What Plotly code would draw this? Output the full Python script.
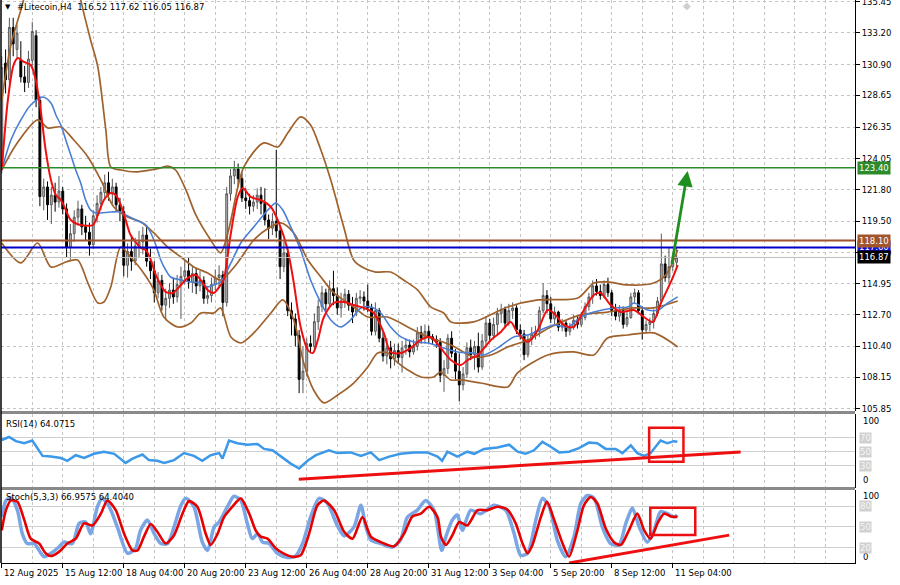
import plotly.graph_objects as go

# ------------------------------------------------------------------ data
bar_index = list(range(178))
opens = [123.5, 131.0, 129.8, 133.6, 132.0, 131.2, 130.0, 129.6, 131.2, 133.0,
         128.3, 121.3, 122.0, 120.7, 121.4, 120.9, 121.7, 120.4, 117.6, 118.6,
         119.8, 120.4, 119.1, 118.7, 117.8, 119.9, 120.8, 121.6, 122.3, 121.5,
         122.0, 120.7, 120.2, 116.3, 117.3, 116.6, 117.7, 118.0, 118.5, 116.6,
         115.9, 114.3, 115.2, 113.4, 113.9, 114.5, 114.0, 114.9, 115.5, 115.9,
         115.1, 115.7, 114.8, 115.2, 113.9, 114.1, 114.9, 115.4, 115.6, 113.6,
         121.5, 122.8, 123.3, 122.6, 121.2, 121.0, 120.6, 120.9, 121.4, 120.8,
         119.6, 119.0, 119.5, 118.8, 116.2, 117.2, 113.0, 112.4, 111.2, 108.0,
         108.6, 110.6, 110.4, 112.2, 113.3, 114.3, 113.5, 114.6, 114.1, 113.2,
         113.7, 114.2, 113.4, 112.9, 113.9, 114.0, 113.7, 113.2, 111.5, 113.0,
         111.0, 109.7, 110.3, 109.5, 110.1, 109.6, 110.3, 110.5, 110.0, 110.4,
         111.4, 111.0, 111.5, 111.1, 110.9, 110.7, 108.3, 108.8, 111.0, 109.9,
         108.6, 107.6, 108.4, 110.3, 109.8, 110.4, 108.9, 110.8, 112.1, 111.2,
         112.0, 112.8, 113.1, 112.1, 113.0, 113.2, 111.6, 111.3, 109.8, 110.9,
         111.3, 111.5, 113.0, 114.1, 113.5, 112.4, 112.9, 111.8, 112.1, 111.5,
         111.8, 112.3, 112.0, 112.5, 113.3, 114.0, 114.8, 114.4, 114.1, 114.9,
         114.3, 113.0, 112.6, 113.0, 112.0, 112.5, 114.0, 114.3, 113.0, 111.6,
         112.0, 112.2, 112.8, 113.7, 116.4, 115.4, 116.2, 116.52]
highs = [131.5, 132.0, 134.3, 134.3, 133.8, 132.6, 130.8, 131.9, 134.0, 133.4,
         128.6, 122.6, 122.4, 122.0, 122.3, 122.8, 122.0, 120.8, 119.3, 120.3,
         121.0, 120.7, 119.9, 119.4, 120.3, 121.4, 122.0, 122.9, 123.1, 122.6,
         122.3, 121.2, 120.6, 117.9, 118.4, 118.3, 118.8, 119.1, 119.2, 117.5,
         116.6, 115.8, 115.6, 114.6, 115.0, 115.4, 115.6, 116.2, 116.7, 116.9,
         116.3, 116.1, 115.9, 115.5, 114.8, 115.4, 116.0, 116.3, 115.9, 122.0,
         123.3, 123.9, 123.7, 123.0, 121.9, 121.5, 121.4, 121.9, 122.0, 121.9,
         120.0, 120.1, 124.7, 119.2, 118.0, 117.5, 113.6, 112.8, 111.6, 110.4,
         111.0, 111.2, 112.8, 113.8, 114.8, 114.6, 115.2, 115.9, 114.7, 114.3,
         114.6, 114.5, 114.0, 114.3, 114.5, 114.4, 114.9, 113.5, 113.6, 113.2,
         111.4, 111.0, 110.8, 110.6, 110.6, 110.8, 111.0, 110.9, 110.9, 111.8,
         111.9, 112.0, 111.9, 111.3, 111.2, 111.0, 109.4, 111.3, 111.5, 110.2,
         109.9, 108.9, 110.7, 110.9, 110.8, 111.4, 111.3, 112.6, 112.4, 112.5,
         113.2, 113.5, 113.3, 113.5, 113.6, 113.4, 112.0, 111.6, 111.2, 111.8,
         111.9, 113.3, 115.0, 114.5, 114.0, 113.3, 113.0, 112.4, 112.3, 112.1,
         112.7, 112.6, 112.9, 113.6, 114.3, 115.2, 115.3, 114.9, 115.2, 115.4,
         114.5, 113.5, 113.4, 113.3, 112.9, 114.3, 114.6, 114.5, 113.3, 112.3,
         112.5, 113.1, 114.0, 118.6, 117.0, 117.6, 117.0, 117.62]
lows = [123.0, 128.8, 129.5, 131.5, 131.4, 129.6, 128.9, 129.2, 130.8, 127.8,
        120.6, 120.3, 119.6, 119.3, 120.2, 120.5, 120.0, 116.9, 116.7, 118.0,
        119.2, 118.5, 118.1, 117.0, 117.5, 119.4, 120.3, 121.2, 121.0, 120.8,
        120.2, 119.5, 115.5, 115.4, 115.9, 116.3, 116.9, 117.1, 116.2, 115.3,
        113.6, 113.9, 113.0, 112.3, 113.2, 113.5, 113.6, 112.4, 114.9, 114.6,
        114.3, 114.2, 114.4, 113.5, 113.5, 113.6, 114.5, 114.7, 112.6, 113.3,
        121.0, 122.2, 122.0, 120.9, 120.4, 120.0, 120.2, 120.4, 120.0, 119.2,
        118.2, 118.5, 118.3, 115.3, 115.8, 112.6, 111.2, 110.4, 107.0, 107.0,
        108.2, 109.9, 110.1, 111.6, 112.9, 113.0, 113.2, 113.4, 112.7, 112.5,
        113.2, 113.0, 112.1, 112.6, 113.5, 113.0, 112.9, 111.2, 111.2, 110.7,
        109.3, 109.1, 108.8, 109.0, 109.2, 108.5, 109.8, 109.6, 109.8, 110.1,
        110.6, 110.6, 110.6, 110.5, 110.3, 107.8, 107.1, 108.4, 109.6, 108.0,
        106.4, 107.2, 108.1, 109.4, 108.7, 108.5, 108.7, 110.3, 110.8, 110.9,
        111.3, 112.1, 111.8, 111.9, 112.4, 111.3, 110.9, 109.4, 109.6, 110.5,
        110.9, 111.1, 112.8, 112.8, 112.1, 112.0, 111.5, 111.5, 111.1, 111.2,
        111.6, 111.7, 111.8, 112.3, 113.0, 113.5, 114.1, 113.8, 113.9, 114.0,
        112.6, 112.3, 112.2, 111.7, 111.8, 112.4, 113.5, 112.8, 110.9, 111.4,
        111.5, 111.7, 112.6, 113.5, 115.1, 115.0, 115.9, 116.05]
closes = [130.7, 129.8, 133.6, 132.4, 133.2, 130.0, 129.6, 131.3, 133.3, 128.3,
          121.3, 122.0, 120.7, 121.4, 120.9, 121.7, 120.4, 117.6, 118.6, 119.8,
          120.4, 119.1, 118.7, 117.8, 119.9, 120.8, 121.6, 122.3, 121.5, 122.0,
          120.7, 120.2, 116.3, 117.3, 116.6, 117.7, 118.0, 118.5, 116.6, 115.9,
          114.3, 115.2, 113.4, 113.9, 114.5, 114.0, 114.9, 115.5, 115.9, 115.1,
          115.7, 114.8, 115.2, 113.9, 114.1, 114.9, 115.4, 115.6, 113.6, 121.5,
          122.8, 123.3, 122.6, 121.2, 121.0, 120.6, 120.9, 121.4, 120.8, 119.6,
          119.0, 119.5, 118.8, 116.2, 117.2, 113.0, 112.4, 111.2, 108.0, 108.6,
          110.6, 110.4, 112.2, 113.3, 114.3, 113.5, 114.6, 114.1, 113.2, 113.7,
          114.2, 113.4, 112.9, 113.9, 114.0, 113.7, 113.2, 111.5, 113.0, 111.0,
          109.7, 110.3, 109.5, 110.1, 109.6, 110.3, 110.5, 110.0, 110.4, 111.4,
          111.0, 111.5, 111.1, 110.9, 110.7, 108.3, 108.8, 111.0, 109.9, 108.6,
          107.6, 108.4, 110.3, 109.8, 110.4, 108.9, 110.8, 112.1, 111.2, 112.0,
          112.8, 113.1, 112.1, 113.0, 113.2, 111.6, 111.3, 109.8, 110.9, 111.3,
          111.5, 113.0, 114.1, 113.5, 112.4, 112.9, 111.8, 112.1, 111.5, 111.8,
          112.3, 112.0, 112.5, 113.3, 114.0, 114.8, 114.4, 114.1, 114.9, 114.3,
          113.0, 112.6, 113.0, 112.0, 112.5, 114.0, 114.3, 113.0, 111.6, 112.0,
          112.2, 112.8, 113.7, 116.4, 115.4, 116.2, 116.52, 116.87]

# indicator lines: (bar, value)
bb_upper = [(0, 128.32), (2.4, 132.32), (5.0, 134.87), (7.6, 137.4), (11.5, 139.96), (15.5, 140.32),
            (18.6, 138.5), (20.7, 135.6), (23.3, 132.69), (25.2, 130.72), (27.3, 126.14), (28.6, 123.45),
            (31.2, 123.23), (35.1, 123.09), (39.1, 123.23), (41.7, 123.38), (43.5, 123.52), (45.6, 123.23),
            (48.3, 121.78), (50.9, 119.96), (54.8, 118.14), (57.4, 117.2), (59.5, 118.87), (63.5, 123.45),
            (68.7, 125.2), (72.4, 124.9), (75.0, 125.92), (78.4, 127.09), (81.0, 126.5), (83.7, 124.69),
            (86.3, 122.5), (89.7, 119.09), (92.3, 116.69), (95.0, 116.1), (98.1, 115.81), (102.0, 115.81),
            (105.4, 115.23), (109.1, 114.5), (112.5, 113.27), (115.9, 112.83), (117.8, 112.18), (123.8, 112.18),
            (132.7, 113.27), (140.6, 113.78), (151.1, 113.92), (155.3, 115.01), (158.9, 115.09), (164.2, 114.87),
            (171.0, 115.01), (174.2, 115.6), (177.3, 117.41)]
bb_middle = [(0, 123.23), (3.7, 125.05), (9.4, 126.87), (12.1, 126.29), (15.5, 126.36), (18.9, 125.41),
             (22.6, 124.18), (26.0, 122.5), (29.4, 120.54), (33.0, 119.81), (36.5, 119.45), (39.9, 118.65),
             (43.5, 117.63), (47.0, 116.9), (50.4, 116.18), (54.0, 115.74), (57.4, 115.23), (61.4, 116.32),
             (66.1, 118.14), (70.0, 119.02), (73.2, 119.38), (76.6, 118.65), (80.3, 116.69), (83.7, 115.45),
             (87.1, 114.29), (92.3, 113.27), (96.0, 112.54), (101.2, 112.54), (106.5, 111.81), (111.7, 111.09),
             (117.8, 110.5), (123.8, 109.63), (128.3, 109.78), (132.7, 110.36), (138.0, 110.87), (144.0, 111.81),
             (151.9, 112.69), (158.9, 112.9), (165.8, 113.2), (171.0, 113.2), (177.3, 113.7)]
bb_lower = [(0, 117.92), (5.0, 116.47), (9.4, 117.92), (12.9, 116.18), (16.8, 116.54), (19.9, 116.69),
            (22.6, 115.01), (25.2, 113.56), (26.8, 113.63), (28.6, 114.72), (31.2, 117.63), (33.8, 116.9),
            (37.2, 115.74), (39.9, 114.5), (42.5, 112.54), (46.2, 111.81), (49.6, 112.1), (52.2, 112.83),
            (55.6, 112.83), (57.4, 113.2), (60.1, 111.09), (62.7, 110.65), (66.1, 111.38), (70.6, 112.83),
            (73.7, 113.78), (76.6, 112.32), (79.2, 109.2), (81.8, 107.23), (84.5, 106.29), (88.1, 106.87),
            (92.3, 107.74), (96.0, 108.9), (98.6, 109.92), (101.2, 109.92), (103.9, 109.2), (106.5, 108.69),
            (109.9, 108.18), (113.3, 108.18), (115.1, 108.54), (117.8, 107.96), (120.4, 107.96), (125.6, 107.74),
            (132.7, 107.45), (135.3, 108.47), (143.2, 109.78), (150.0, 110.0), (155.3, 109.78), (158.9, 111.01),
            (164.2, 111.23), (171.0, 111.38), (177.3, 110.36)]
ma_fast = [(0, 123.23), (1.6, 128.32), (3.1, 130.87), (4.2, 131.38), (5.8, 131.09), (7.6, 130.87), (8.9, 129.78),
           (10.2, 127.6), (11.5, 124.69), (12.9, 122.5), (14.2, 121.41), (15.5, 121.05), (16.8, 120.32),
           (18.1, 119.6), (20.7, 119.23), (23.9, 119.23), (25.2, 119.96), (26.8, 121.05), (28.6, 121.56),
           (29.9, 121.41), (31.2, 120.69), (32.5, 119.6), (33.8, 118.5), (36.5, 117.56), (37.8, 117.41),
           (39.1, 116.69), (40.4, 115.6), (41.7, 114.87), (43.0, 114.36), (44.9, 114.29), (47.0, 114.87),
           (48.8, 115.38), (50.9, 115.6), (52.2, 115.23), (54.0, 114.5), (55.6, 114.29), (57.4, 114.87),
           (58.2, 115.23), (60.1, 118.65), (61.9, 121.27), (63.2, 121.92), (65.3, 121.27), (67.9, 121.05),
           (70.6, 120.54), (72.7, 119.38), (75.0, 117.41), (76.6, 115.01), (78.4, 111.81), (80.3, 110.14),
           (81.6, 109.92), (82.9, 110.87), (84.5, 112.54), (87.1, 113.56), (89.7, 113.63), (92.3, 113.41),
           (95.0, 113.2), (97.6, 112.83), (100.2, 111.38), (102.0, 110.0), (104.7, 109.92), (107.3, 110.29),
           (109.9, 110.87), (112.5, 111.09), (115.1, 110.29), (117.8, 109.41), (120.4, 109.05), (122.2, 109.41),
           (124.9, 109.78), (128.3, 110.87), (130.9, 111.45), (133.5, 112.18), (135.3, 111.38), (138.0, 110.72),
           (140.6, 111.6), (143.2, 113.05), (145.3, 112.69), (147.4, 111.96), (150.0, 111.81), (152.7, 113.05),
           (155.3, 114.14), (157.1, 114.29), (159.7, 113.41), (162.4, 112.9), (165.8, 113.05), (168.4, 112.54),
           (170.8, 112.18), (172.9, 113.56), (175.5, 115.09), (177.3, 116.32)]
ma_slow = [(0, 123.23), (2.4, 125.41), (5.0, 126.87), (7.6, 127.96), (10.8, 128.54), (12.9, 128.1),
           (14.2, 127.23), (15.5, 126.5), (16.8, 125.41), (18.1, 124.32), (19.4, 123.23), (20.7, 122.29),
           (22.0, 121.05), (23.3, 120.32), (24.7, 120.1), (28.6, 120.18), (31.2, 120.18), (32.5, 119.96),
           (35.1, 119.6), (37.8, 119.23), (39.1, 118.65), (40.4, 117.78), (41.7, 116.69), (43.0, 115.96),
           (44.3, 115.45), (47.0, 115.23), (49.6, 115.09), (52.2, 115.01), (54.0, 114.72), (55.6, 114.87),
           (57.4, 115.09), (60.1, 116.47), (62.7, 117.92), (66.1, 119.09), (69.8, 120.32), (71.9, 120.83),
           (73.7, 120.32), (75.8, 119.09), (78.4, 117.41), (81.0, 115.23), (83.7, 113.56), (86.3, 112.32),
           (88.9, 111.81), (91.5, 112.32), (94.2, 113.2), (96.8, 113.27), (99.4, 112.83), (102.0, 111.81),
           (104.7, 111.09), (108.1, 110.72), (111.7, 110.65), (115.1, 110.36), (119.6, 110.0), (123.8, 109.92),
           (126.4, 109.78), (130.1, 110.29), (134.3, 111.09), (138.0, 111.23), (141.4, 111.6), (144.8, 111.96),
           (148.5, 111.81), (151.9, 112.54), (155.3, 112.9), (160.5, 113.2), (164.2, 113.27), (165.8, 113.56),
           (169.4, 113.05), (172.1, 113.05), (174.7, 113.56), (177.3, 114.0)]
rsi = [(0, 66.7), (1.9, 71), (3.7, 65), (5.9, 62), (8.0, 66), (9.4, 55), (10.7, 44), (12.9, 43), (15.5, 41),
       (17.2, 37), (19.4, 45), (21.6, 41), (24.2, 47), (26.8, 50), (29.5, 47), (32.5, 34), (34.3, 40), (36.9, 46),
       (38.6, 38), (40.8, 37), (42.6, 34), (45.2, 38), (47.8, 48), (50.4, 44), (52.6, 37), (54.8, 45), (57.0, 48),
       (57.9, 40), (59.6, 66), (61.8, 62), (64.4, 60), (67.1, 61), (68.8, 54), (71.0, 52), (73.2, 43), (75.8, 33),
       (78.0, 26), (80.2, 37), (82.4, 45), (85.8, 52), (88.0, 48), (91.5, 49), (94.2, 44), (96.8, 49), (99.0, 38),
       (101.6, 43), (104.6, 47), (108.1, 49), (111.6, 49), (114.3, 43), (115.5, 37), (116.9, 50), (119.5, 43),
       (122.1, 50), (123.9, 47), (126.5, 54), (130.0, 56), (133.1, 60), (135.3, 50), (137.4, 47), (139.6, 52),
       (141.8, 64), (144.0, 57), (146.2, 49), (148.8, 50), (151.4, 55), (154.0, 63), (156.2, 62), (158.4, 54),
       (161.0, 54), (162.8, 48), (165.0, 59), (166.7, 48), (168.5, 44), (170.2, 48), (172.8, 66), (174.6, 62),
       (176.3, 65), (177.2, 64.07)]
stoch_k = [(0, 64), (1.1, 88), (2.4, 92), (4.1, 74), (5.4, 40), (6.7, 26), (8.5, 26), (9.8, 16), (11.1, 7),
           (12.9, 12), (15.0, 21), (16.3, 28), (18.5, 26), (20.3, 55), (22.0, 57), (23.3, 40), (25.1, 79),
           (26.4, 91), (28.2, 79), (30.3, 50), (33.0, 12), (35.1, 19), (36.4, 45), (38.2, 60), (40.0, 40),
           (41.7, 26), (43.5, 26), (45.2, 50), (47.0, 81), (48.3, 91), (50.4, 79), (52.6, 28), (54.0, 16),
           (55.7, 50), (57.0, 57), (59.2, 79), (60.9, 94), (62.7, 88), (64.4, 55), (65.7, 33), (67.1, 40),
           (68.4, 28), (70.1, 26), (72.3, 12), (74.9, 6), (77.1, 8), (78.9, 26), (81.0, 64), (83.2, 91),
           (85.4, 84), (88.0, 52), (89.8, 37), (92.4, 50), (94.2, 81), (95.5, 50), (96.8, 31), (99.4, 26),
           (102.5, 21), (104.6, 31), (106.4, 64), (109.0, 74), (111.2, 88), (113.4, 74), (115.4, 16),
           (116.5, 36), (118.2, 60), (119.5, 67), (120.8, 45), (123.0, 74), (125.6, 69), (129.1, 81),
           (132.2, 74), (134.4, 40), (136.1, 9), (137.9, 12), (140.1, 60), (141.8, 91), (143.6, 79),
           (145.7, 31), (147.9, 7), (150.1, 36), (151.9, 84), (153.6, 95), (155.4, 91), (157.5, 50),
           (159.7, 26), (161.9, 24), (163.7, 55), (165.4, 77), (167.2, 50), (169.3, 28), (171.1, 45),
           (172.8, 72), (174.6, 69), (176.3, 64), (177.2, 66.96)]
stoch_d = [(0, 45), (1.1, 74), (2.4, 88), (4.1, 86), (5.9, 60), (7.6, 33), (9.8, 26), (11.5, 12), (12.9, 8),
           (15.0, 14), (17.2, 26), (19.4, 33), (21.6, 55), (23.8, 52), (26.0, 69), (27.7, 88), (29.9, 74),
           (32.1, 40), (34.3, 16), (35.6, 16), (37.3, 36), (39.1, 54), (40.8, 43), (43.0, 26), (45.2, 38),
           (47.4, 69), (49.1, 87), (51.3, 79), (53.5, 40), (54.8, 24), (56.6, 40), (58.3, 64), (60.5, 79),
           (62.7, 91), (64.9, 69), (66.6, 45), (67.9, 36), (69.7, 33), (71.9, 19), (74.1, 11), (76.2, 7),
           (78.4, 9), (80.6, 40), (82.8, 81), (84.5, 88), (87.2, 74), (89.8, 43), (92.0, 33), (94.6, 64),
           (96.8, 36), (99.4, 28), (102.9, 22), (105.5, 40), (107.7, 65), (109.9, 69), (112.1, 79),
           (114.3, 64), (115.2, 36), (116.5, 24), (118.2, 38), (120.0, 57), (122.1, 52), (124.8, 74),
           (127.4, 74), (130.0, 79), (132.6, 75), (134.8, 55), (136.6, 26), (137.9, 12), (139.2, 24),
           (141.4, 64), (143.0, 86), (144.9, 60), (147.1, 26), (148.8, 7), (151.0, 45), (152.7, 81),
           (154.5, 93), (156.2, 84), (158.4, 48), (160.6, 28), (162.4, 24), (164.5, 45), (166.7, 69),
           (168.5, 45), (170.2, 33), (172.0, 55), (173.7, 69), (175.5, 65), (177.2, 64.4)]

price_ticks = [135.45, 133.20, 130.90, 128.65, 126.35, 124.05, 121.80, 119.50, 117.20,
               114.95, 112.70, 110.40, 108.15, 105.85]
x_tick_bars = [0, 16, 32, 48, 64, 80, 96, 112, 128, 144, 160, 176]
x_tick_labels = ["12 Aug 2025", "15 Aug 12:00", "18 Aug 04:00", "20 Aug 20:00", "23 Aug 12:00",
                 "26 Aug 04:00", "28 Aug 20:00", "31 Aug 12:00", "3 Sep 04:00", "5 Sep 20:00",
                 "8 Sep 12:00", "11 Sep 04:00"]
rsi_levels = [70, 50, 30]
stoch_levels = [80, 50, 20]
level_green = 123.40
level_brown = 118.10
level_blue = 117.60
last_price = 116.87
header_text = "#Litecoin,H4  116.52 117.62 116.05 116.87"
rsi_text = "RSI(14) 64.0715"
stoch_text = "Stoch(5,3,3) 66.9575 64.4040"
arrow_tail = (175.7, 116.3)
arrow_head = (179.9, 123.15)
marker_bar = 179.7
rsi_trend = [(77.9, 10.6), (193.8, 49.6)]
rsi_box = [(169.8, 35.7), (178.8, 84.3)]
stoch_trend = [(148.8, -2.0), (190.8, 38.1)]
stoch_box = [(170.1, 38.1), (181.9, 77.6)]

# ------------------------------------------------------------------ style
FONT = "DejaVu Sans"
GRID = "#c4c4c4"
BROWN = "#a0622d"
X_RANGE = [-0.2, 223.8]


def xs(pairs):
    return [p[0] for p in pairs]


def ys(pairs):
    return [p[1] for p in pairs]


fig = go.Figure()
fig.add_trace(go.Candlestick(
    x=bar_index, open=opens, high=highs, low=lows, close=closes,
    increasing=dict(line=dict(color="#5a5a5a", width=1), fillcolor="#b8b8b8"),
    decreasing=dict(line=dict(color="#000000", width=1), fillcolor="#000000"),
    whiskerwidth=0, xaxis="x", yaxis="y", hoverinfo="skip", showlegend=False))

for pairs in (bb_upper, bb_middle, bb_lower):
    fig.add_trace(go.Scatter(x=xs(pairs), y=ys(pairs), mode="lines", xaxis="x", yaxis="y",
                             line=dict(color=BROWN, width=1.7, shape="spline", smoothing=0.8),
                             hoverinfo="skip"))
fig.add_trace(go.Scatter(x=xs(ma_slow), y=ys(ma_slow), mode="lines", xaxis="x", yaxis="y",
                         line=dict(color="#4a7fd6", width=1.6, shape="spline", smoothing=0.8),
                         hoverinfo="skip"))
fig.add_trace(go.Scatter(x=xs(ma_fast), y=ys(ma_fast), mode="lines", xaxis="x", yaxis="y",
                         line=dict(color="#ee1010", width=2, shape="spline", smoothing=0.8),
                         hoverinfo="skip"))

fig.add_trace(go.Scatter(x=xs(rsi), y=ys(rsi), mode="lines", xaxis="x2", yaxis="y2",
                         line=dict(color="#3c98e8", width=2.5), hoverinfo="skip"))
fig.add_trace(go.Scatter(x=xs(stoch_k), y=ys(stoch_k), mode="lines", xaxis="x3", yaxis="y3",
                         line=dict(color="#74a2e4", width=3.5, shape="spline", smoothing=0.7),
                         opacity=0.95, hoverinfo="skip"))
fig.add_trace(go.Scatter(x=xs(stoch_d), y=ys(stoch_d), mode="lines", xaxis="x3", yaxis="y3",
                         line=dict(color="#e60000", width=2.6, shape="spline", smoothing=0.7),
                         hoverinfo="skip"))

# trend lines (red) on the oscillators
fig.add_trace(go.Scatter(x=xs(rsi_trend), y=ys(rsi_trend), mode="lines", xaxis="x2", yaxis="y2",
                         line=dict(color="#ee1010", width=3), hoverinfo="skip"))
fig.add_trace(go.Scatter(x=xs(stoch_trend), y=ys(stoch_trend), mode="lines", xaxis="x3", yaxis="y3",
                         line=dict(color="#ee1010", width=3), hoverinfo="skip", cliponaxis=False))

shapes = []
for lvl, col, w in ((level_green, "#2c8c2c", 1.5), (level_brown, "#a0522d", 2),
                    (level_blue, "#0000c8", 2), (last_price, "#bdbdbd", 1)):
    shapes.append(dict(type="line", xref="x domain", yref="y", x0=0, x1=1, y0=lvl, y1=lvl,
                       line=dict(color=col, width=w), layer="above"))
shapes.append(dict(type="rect", xref="x2", yref="y2", x0=rsi_box[0][0], x1=rsi_box[1][0],
                   y0=rsi_box[0][1], y1=rsi_box[1][1], line=dict(color="#ee1010", width=2.5)))
shapes.append(dict(type="rect", xref="x3", yref="y3", x0=stoch_box[0][0], x1=stoch_box[1][0],
                   y0=stoch_box[0][1], y1=stoch_box[1][1], line=dict(color="#ee1010", width=2.5)))
# panel separators and frame
for yy in (0.2673, 0.1323):
    shapes.append(dict(type="line", xref="paper", yref="paper", x0=0, x1=1, y0=yy, y1=yy,
                       line=dict(color="#8a8a8a", width=3)))
shapes.append(dict(type="line", xref="paper", yref="paper", x0=0, x1=0, y0=0, y1=1,
                   line=dict(color="#000000", width=1.5)))

ann = []
ann.append(dict(text="▼", xref="paper", yref="paper", x=0, y=1, xanchor="left", yanchor="top",
                xshift=2, yshift=-1, showarrow=False, font=dict(size=7, color="#000")))
ann.append(dict(text=header_text, xref="paper", yref="paper", x=0, y=1, xanchor="left",
                yanchor="top", xshift=14, yshift=0, showarrow=False, font=dict(size=8.5, color="#000")))
ann.append(dict(text="◆", xref="x", yref="paper", x=marker_bar, y=1, xanchor="center",
                yanchor="top", yshift=2, showarrow=False, font=dict(size=10, color="#cfcfcf")))
ann.append(dict(text=rsi_text, xref="paper", yref="y2 domain", x=0, y=0.87, xanchor="left",
                yanchor="middle", xshift=3, showarrow=False, font=dict(size=8.5, color="#000")))
ann.append(dict(text=stoch_text, xref="paper", yref="y3 domain", x=0, y=0.9, xanchor="left",
                yanchor="middle", xshift=3, showarrow=False, font=dict(size=8.5, color="#000")))
for b, lab in zip(x_tick_bars, x_tick_labels):
    ann.append(dict(text=lab, xref="x3", yref="paper", x=b, y=0, xanchor="left", yanchor="top",
                    xshift=0, yshift=-3, showarrow=False, font=dict(size=8.5, color="#000")))
# price labels in coloured boxes on the right axis (they overlap as in the original)
for lvl, bg in ((level_green, "#2c8c2c"), (level_blue, "#1010e0"), (level_brown, "#a0552d"),
                (last_price, "#000000")):
    ann.append(dict(text=f"{lvl:.2f}", xref="paper", yref="y", x=1, y=lvl, xanchor="left",
                    yanchor="middle", xshift=2, showarrow=False, bgcolor=bg, borderpad=1,
                    font=dict(size=8.5, color="#ffffff")))
# oscillator scale labels
for txt, yd, ref in (("100", 0.9, "y2 domain"), ("0", 0.1, "y2 domain"),
                     ("100", 0.91, "y3 domain"), ("0", 0.085, "y3 domain")):
    ann.append(dict(text=txt, xref="paper", yref=ref, x=1, y=yd, xanchor="left", yanchor="middle",
                    xshift=6, showarrow=False, font=dict(size=8.5, color="#000")))
for lvl in rsi_levels:
    ann.append(dict(text=str(lvl), xref="paper", yref="y2", x=1, y=lvl, xanchor="left",
                    yanchor="middle", xshift=4, showarrow=False, bgcolor="#d0d0d0", borderpad=0,
                    font=dict(size=8.5, color="#f6f6f6")))
for lvl in stoch_levels:
    ann.append(dict(text=str(lvl), xref="paper", yref="y3", x=1, y=lvl, xanchor="left",
                    yanchor="middle", xshift=4, showarrow=False, bgcolor="#d0d0d0", borderpad=0,
                    font=dict(size=8.5, color="#f6f6f6")))
# green arrow
ann.append(dict(text="", xref="x", yref="y", axref="x", ayref="y", x=arrow_head[0], y=arrow_head[1],
                ax=arrow_tail[0], ay=arrow_tail[1], showarrow=True, arrowhead=2, arrowsize=1.1,
                arrowwidth=2.8, arrowcolor="#1f8f1f"))

grid8 = dict(dtick=8, tick0=0, showgrid=True, gridcolor=GRID, griddash="3px,3px", ticks="")
xcommon = dict(range=X_RANGE, showgrid=True, gridcolor=GRID, griddash="3px,3px", gridwidth=1,
               tickmode="array", tickvals=x_tick_bars, showticklabels=False, zeroline=False,
               minor=grid8, fixedrange=True, automargin=False)

fig.update_layout(
    width=900, height=585, margin=dict(l=1, r=45, t=0, b=22, autoexpand=False),
    paper_bgcolor="white", plot_bgcolor="white", showlegend=False,
    font=dict(family=FONT, size=8.5, color="#000"),
    xaxis=dict(**xcommon, anchor="y", domain=[0, 1], rangeslider=dict(visible=False), ticks=""),
    xaxis2=dict(**xcommon, anchor="y2", domain=[0, 1], ticks=""),
    xaxis3=dict(**xcommon, anchor="y3", domain=[0, 1], ticks="outside", ticklen=4,
                tickcolor="#000", showline=True, linecolor="#000", linewidth=1),
    yaxis=dict(domain=[0.27, 1], range=[105.704, 135.595], side="right", tickmode="array",
               tickvals=price_ticks, ticktext=[f"{v:.2f}" for v in price_ticks], ticks="outside",
               ticklen=4, tickcolor="#000", showgrid=True, gridcolor=GRID, griddash="3px,3px",
               showline=True, linecolor="#000", linewidth=1, zeroline=False, fixedrange=True,
               tickfont=dict(size=8.5), ticklabeloverflow="allow", automargin=False),
    yaxis2=dict(domain=[0.1341, 0.2647], range=[-1.14, 103.86], side="right", tickmode="array",
                tickvals=rsi_levels, showticklabels=False, ticks="", showgrid=True, gridcolor="#cfcfcf",
                showline=True, linecolor="#000", linewidth=1, zeroline=False, fixedrange=True,
                automargin=False),
    yaxis3=dict(domain=[0, 0.13055], range=[-2.02, 103.74], side="right", tickmode="array",
                tickvals=stoch_levels, showticklabels=False, ticks="", showgrid=True, gridcolor="#cfcfcf",
                showline=True, linecolor="#000", linewidth=1, zeroline=False, fixedrange=True,
                automargin=False),
    shapes=shapes, annotations=ann,
)

fig.write_html("out.html", config={"displayModeBar": False},
               post_script="document.body.style.margin='0';document.body.style.overflow='hidden';")
